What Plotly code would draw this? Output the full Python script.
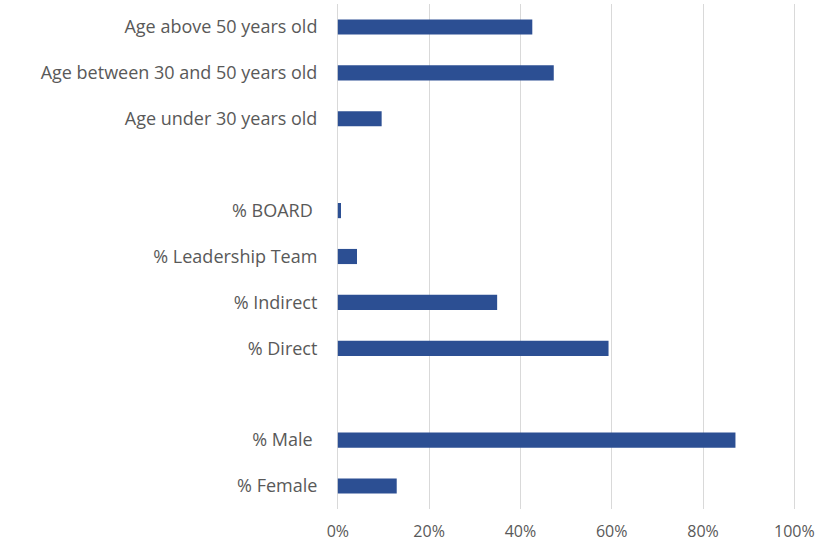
import plotly.graph_objects as go

categories = [
    "% Female",
    "% Male ",
    " ",
    "% Direct",
    "% Indirect",
    "% Leadership Team",
    "% BOARD ",
    "  ",
    "Age under 30 years old",
    "Age between 30 and 50 years old",
    "Age above 50 years old",
]
values = [0.129, 0.871, None, 0.593, 0.349, 0.042, 0.007, None, 0.096, 0.473, 0.426]
x_tickvals = [0, 0.2, 0.4, 0.6, 0.8, 1.0]
x_ticktext = ["0%", "20%", "40%", "60%", "80%", "100%"]

fig = go.Figure(go.Bar(
    x=values, y=categories, orientation="h",
    marker=dict(color="#2C4F93", line=dict(width=0)),
))

fig.update_layout(
    width=820, height=551,
    margin=dict(l=336, r=22, t=4, b=42),
    paper_bgcolor="white", plot_bgcolor="white",
    bargap=0.67,
    showlegend=False,
    font=dict(family="Open Sans", size=16, color="#595959"),
)
fig.update_xaxes(
    range=[-0.004, 1.008], tickvals=x_tickvals, ticktext=x_ticktext,
    showgrid=True, gridcolor="#D9D9D9", gridwidth=1,
    zeroline=False, showline=False,
    ticks="outside", ticklen=8, tickcolor="rgba(0,0,0,0)",
    tickfont=dict(size=16),
)
fig.update_yaxes(
    type="category", categoryorder="array", categoryarray=categories,
    showgrid=False, zeroline=False, showline=False,
    ticks="outside", ticklen=14, tickcolor="rgba(0,0,0,0)",
    tickfont=dict(size=18),
)

fig.write_html(
    "out.html",
    config={"displayModeBar": False},
    post_script="document.body.style.margin='0';",
)
